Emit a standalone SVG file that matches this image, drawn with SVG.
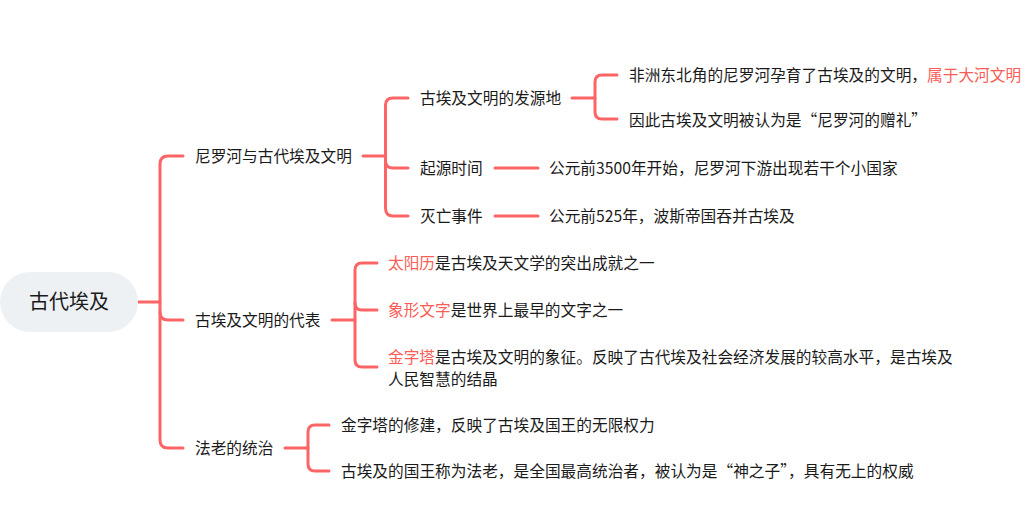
<svg xmlns="http://www.w3.org/2000/svg" width="1034" height="521" viewBox="0 0 1034 521">
<style>
.t{font-family:"Noto Sans CJK SC","Microsoft YaHei",sans-serif;font-size:15.7px;fill:#1a1a1a}
.r{fill:#f95d57}
.c{fill:none;stroke:#fd6465;stroke-width:3;stroke-linecap:round;stroke-linejoin:round}
.root{font-family:"Noto Sans CJK SC",sans-serif;font-size:20px;fill:#1a1a1a}
</style>
<rect width="1034" height="521" fill="#ffffff"/>
<g id="connectors">
<path class="c" d="M138 302 H160" stroke-width="4.5"/>
<path class="c" d="M183 156 H168 Q160 156 160 164 V440 Q160 448 168 448 H183"/>
<path class="c" d="M160 312 Q160 320 168 320 H183"/>
<path class="c" d="M363 156 H385"/>
<path class="c" d="M408 98 H393 Q385.5 98 385.5 105 V208 Q385.5 216 393 216 H408"/>
<path class="c" d="M385.5 161 Q385.5 168 393 168 H408"/>
<path class="c" d="M572 98 H595"/>
<path class="c" d="M617 75 H602 Q595 75 595 82 V112 Q595 119 602 119 H617"/>
<path class="c" d="M495 168 H538"/>
<path class="c" d="M495 216 H538"/>
<path class="c" d="M332 320 H355"/>
<path class="c" d="M377 263 H362 Q355 263 355 270 V360 Q355 367 362 367 H377"/>
<path class="c" d="M355 303 Q355 310 362 310 H377"/>
<path class="c" d="M285 448 H308"/>
<path class="c" d="M329 425 H315 Q308 425 308 432 V464 Q308 471 315 471 H329"/>
</g>
<g id="root">
<rect x="0" y="272" width="138" height="60" rx="30" fill="#eef1f4"/>
<text class="root" x="69" y="309" text-anchor="middle">古代埃及</text>
</g>
<g id="n1"><text class="t" x="195" y="161.5">尼罗河与古代埃及文明</text></g>
<g id="n1a"><text class="t" x="420" y="103.5">古埃及文明的发源地</text></g>
<g id="n1a1"><text class="t" x="629" y="80.5">非洲东北角的尼罗河孕育了古埃及的文明，<tspan class="r">属于大河文明</tspan></text></g>
<g id="n1a2"><text class="t" x="629" y="126">因此古埃及文明被认为是“尼罗河的赠礼”</text></g>
<g id="n1b"><text class="t" x="420" y="173.5">起源时间</text></g>
<g id="n1b1"><text class="t" x="549" y="173.5">公元前3500年开始，尼罗河下游出现若干个小国家</text></g>
<g id="n1c"><text class="t" x="420" y="221.5">灭亡事件</text></g>
<g id="n1c1"><text class="t" x="549" y="221.5">公元前525年，波斯帝国吞并古埃及</text></g>
<g id="n2"><text class="t" x="195" y="325.5">古埃及文明的代表</text></g>
<g id="n2a"><text class="t" x="388" y="268.5"><tspan class="r">太阳历</tspan>是古埃及天文学的突出成就之一</text></g>
<g id="n2b"><text class="t" x="388" y="315.5"><tspan class="r">象形文字</tspan>是世界上最早的文字之一</text></g>
<g id="n2c"><text class="t" x="388" y="362.5"><tspan class="r">金字塔</tspan>是古埃及文明的象征。反映了古代埃及社会经济发展的较高水平，是古埃及</text><text class="t" x="388" y="384.5">人民智慧的结晶</text></g>
<g id="n3"><text class="t" x="195" y="453.5">法老的统治</text></g>
<g id="n3a"><text class="t" x="341" y="430.5">金字塔的修建，反映了古埃及国王的无限权力</text></g>
<g id="n3b"><text class="t" x="341" y="476.5">古埃及的国王称为法老，是全国最高统治者，被认为是“神之子”，具有无上的权威</text></g>
</svg>
